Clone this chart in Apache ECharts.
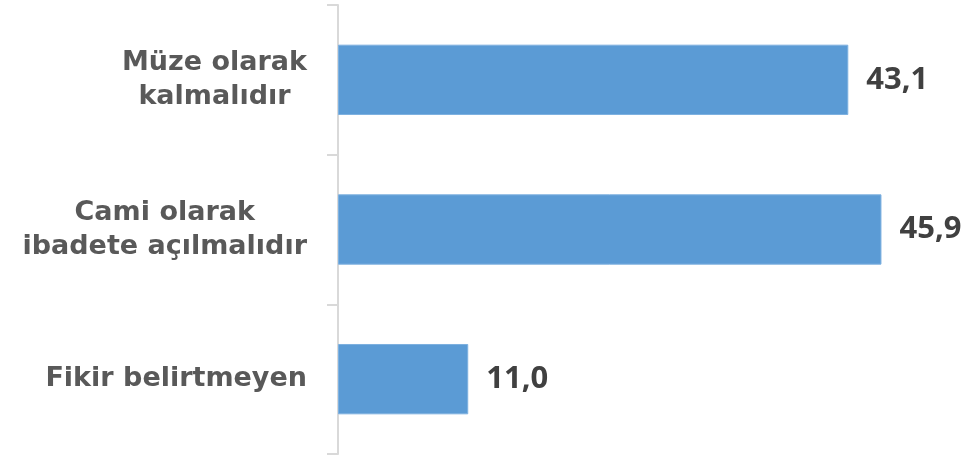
<!DOCTYPE html>
<html>
<head>
<meta charset="utf-8">
<script src="https://cdn.jsdelivr.net/npm/echarts@6/dist/echarts.min.js"></script>
<style>
  html, body { margin: 0; padding: 0; background: #ffffff; }
  #chart { width: 965px; height: 457px; }
</style>
</head>
<body>
<div id="chart"></div>
<script>
// Opinion categories and their shares (%)
const categories = [
  'Müze olarak\nkalmalıdır',
  'Cami olarak\nibadete açılmalıdır',
  'Fikir belirtmeyen'
];
const shares = [43.1, 45.9, 11.0];

const chart = echarts.init(document.getElementById('chart'));

chart.setOption({
  animation: false,
  grid: { left: 338, right: 35, top: 5, bottom: 3, containLabel: false },
  xAxis: {
    type: 'value',
    min: 0,
    max: 50,
    show: false
  },
  yAxis: {
    type: 'category',
    data: categories,
    inverse: true,
    axisLine: { show: true, lineStyle: { color: '#d9d9d9', width: 2 } },
    axisTick: { show: true, length: 11, lineStyle: { color: '#d9d9d9', width: 2 } },
    axisLabel: {
      margin: 31,
      formatter: function (v) {
        return v.split('\n').map(function (s) { return '{c|' + s + '}'; }).join('\n');
      },
      rich: {
        c: {
          align: 'center',
          fontFamily: 'DejaVu Sans',
          fontWeight: 'bold',
          fontSize: 27,
          lineHeight: 34,
          color: '#595959'
        }
      }
    },
    splitLine: { show: false }
  },
  series: [{
    type: 'bar',
    data: shares,
    barCategoryGap: '53%',
    itemStyle: { color: '#5b9bd5', borderColor: '#7eb1e0', borderWidth: 1 },
    label: {
      show: true,
      position: 'right',
      distance: 18,
      fontFamily: 'Noto Sans',
      fontWeight: 'bold',
      fontSize: 31,
      color: '#404040',
      formatter: function (p) { return p.value.toFixed(1).replace('.', ','); }
    }
  }]
});
</script>
</body>
</html>
